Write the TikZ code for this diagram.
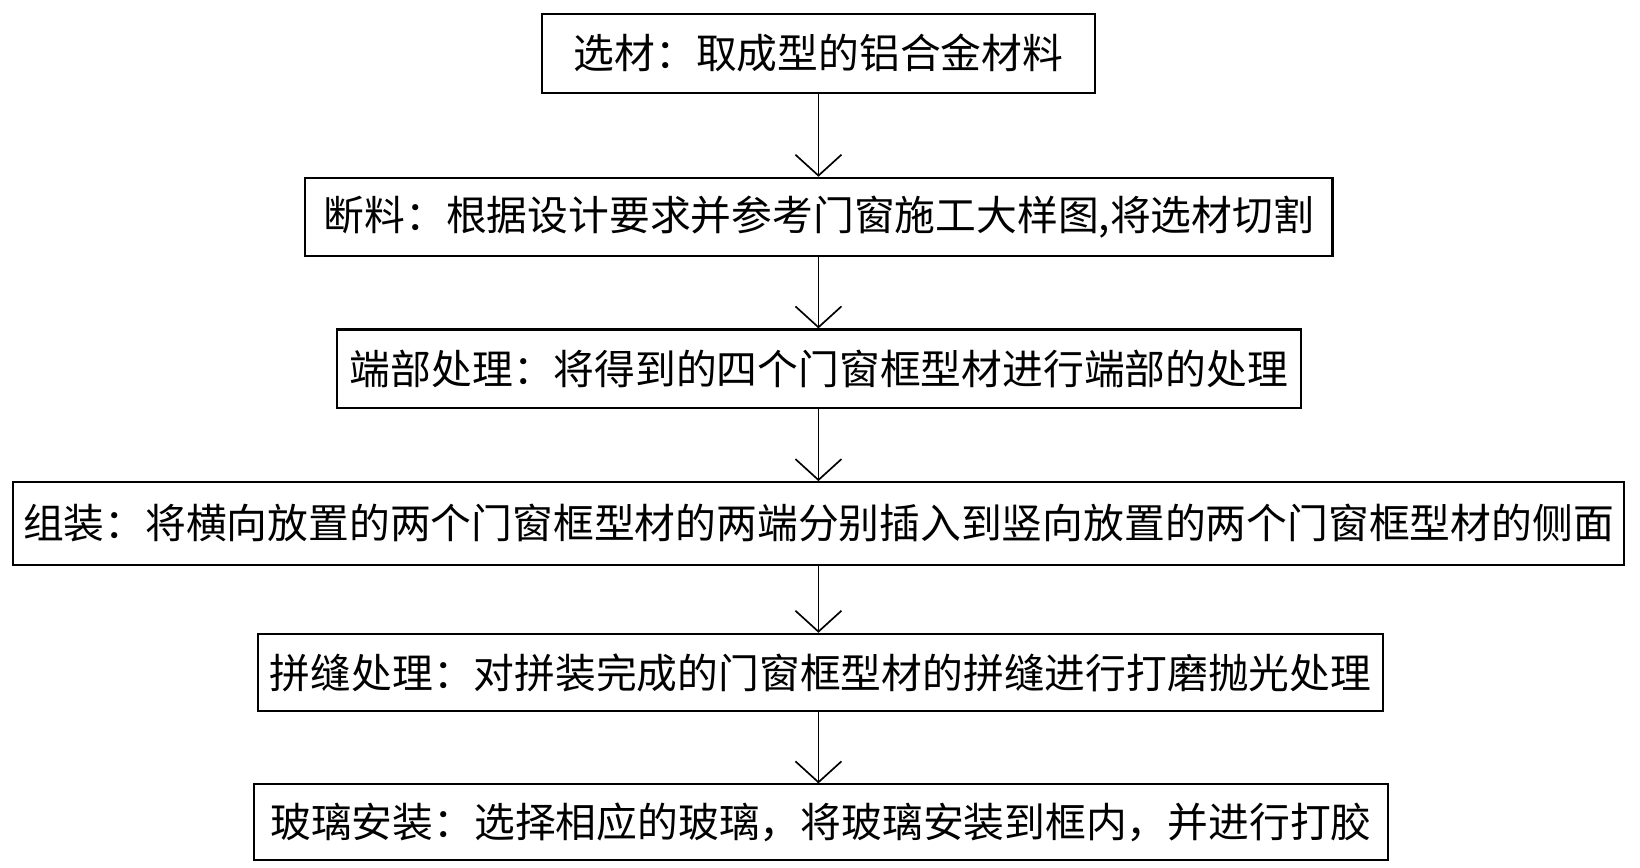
\documentclass[tikz,border=0pt]{standalone}
\usepackage{fontspec}
\setmainfont{Noto Sans CJK SC}
\usetikzlibrary{arrows.meta}
\begin{document}
\begin{tikzpicture}[x=0.5pt,y=-0.5pt,
  stepbox/.style={draw,line width=1pt,inner sep=0pt,font=\fontsize{19.5pt}{22pt}\selectfont},
  flow/.style={line width=0.8pt,-{Straight Barb[length=10pt,width=22pt,line width=0.8pt]}}]
\useasboundingbox (0,0) rectangle (1568,829);
\node[stepbox,minimum width=529pt*0.5,minimum height=76pt*0.5] (a) at (782.5,51) {选材：取成型的铝合金材料};
\node[stepbox,minimum width=982pt*0.5,minimum height=75pt*0.5] (b) at (783,207.5) {断料：根据设计要求并参考门窗施工大样图,将选材切割};
\node[stepbox,minimum width=922pt*0.5,minimum height=75pt*0.5] (c) at (783,352.5) {端部处理：将得到的四个门窗框型材进行端部的处理};
\node[stepbox,minimum width=1541pt*0.5,minimum height=79pt*0.5] (d) at (782.5,500.5) {组装：将横向放置的两个门窗框型材的两端分别插入到竖向放置的两个门窗框型材的侧面};
\node[stepbox,minimum width=1075pt*0.5,minimum height=74pt*0.5] (e) at (784.5,643) {拼缝处理：对拼装完成的门窗框型材的拼缝进行打磨抛光处理};
\node[stepbox,minimum width=1084pt*0.5,minimum height=72pt*0.5] (f) at (785,786) {玻璃安装：选择相应的玻璃，将玻璃安装到框内，并进行打胶};
\draw[flow] (a.south) -- (a.south |- b.north);
\draw[flow] (a.south |- b.south) -- (a.south |- c.north);
\draw[flow] (a.south |- c.south) -- (a.south |- d.north);
\draw[flow] (a.south |- d.south) -- (a.south |- e.north);
\draw[flow] (a.south |- e.south) -- (a.south |- f.north);
\end{tikzpicture}
\end{document}
